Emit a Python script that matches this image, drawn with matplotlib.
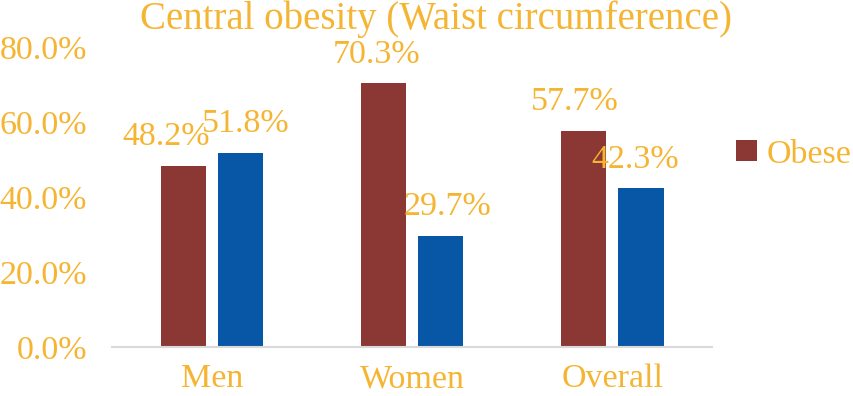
#!/usr/bin/env python3
"""Central obesity (waist circumference) grouped bars."""

import matplotlib
matplotlib.use("Agg")
import matplotlib.pyplot as plt
import numpy as np

# ---- data ----
categories = ["Men", "Women", "Overall"]
obese = [48.2, 70.3, 57.7]
non_obese = [51.8, 29.7, 42.3]
y_ticks = [0, 20, 40, 60, 80]

# ---- style ----
RED = "#8B3835"
BLUE = "#0856A6"
GOLD = "#F5B533"
GRID = "#D9D9D9"
plt.rcParams["font.family"] = ["Liberation Serif", "DejaVu Serif"]

fig = plt.figure(figsize=(8.54, 3.96), dpi=100)
ax = fig.add_axes([0.131, 0.1237, 0.703, 0.7573])

x = np.arange(len(categories))
w = 0.225
off = 0.144
b1 = ax.bar(x - off, obese, w, color=RED, label="Obese")
b2 = ax.bar(x + off, non_obese, w, color=BLUE)

# label nudges in pixels (Excel pushes overlapping labels apart)
nudge_red = [-17, -7, -9]
nudge_blue = [5, 7, -6]
for rect, v, dx in zip(b1, obese, nudge_red):
    ax.annotate(f"{v:.1f}%", (rect.get_x() + rect.get_width() / 2, v),
                xytext=(dx * 0.72, 10), textcoords="offset points",
                ha="center", va="bottom", color=GOLD, fontsize=24.5)
for rect, v, dx in zip(b2, non_obese, nudge_blue):
    ax.annotate(f"{v:.1f}%", (rect.get_x() + rect.get_width() / 2, v),
                xytext=(dx * 0.72, 10), textcoords="offset points",
                ha="center", va="bottom", color=GOLD, fontsize=24.5)

ax.set_xlim(-0.5, len(categories) - 0.5)
ax.set_ylim(0, 80)
ax.set_yticks(y_ticks)
ax.set_yticklabels([f"{t:.1f}%" for t in y_ticks])
ax.set_xticks(x)
ax.set_xticklabels(categories)
ax.tick_params(axis="y", length=0, pad=18, labelcolor=GOLD, labelsize=24.5)
ax.tick_params(axis="x", length=0, pad=12, labelcolor=GOLD, labelsize=24.5)

for s in ("top", "right", "left"):
    ax.spines[s].set_visible(False)
ax.spines["bottom"].set_color(GRID)
ax.spines["bottom"].set_linewidth(1.5)

fig.text(0.51, 0.998, "Central obesity (Waist circumference)",
         ha="center", va="top", color=GOLD, fontsize=28)

leg = fig.legend(handles=[b1], labels=["Obese"], loc="center left",
                 bbox_to_anchor=(0.862, 0.61), frameon=False, fontsize=24.5,
                 handlelength=0.6, handleheight=0.6, handletextpad=0.3,
                 borderpad=0, borderaxespad=0)
for t in leg.get_texts():
    t.set_color(GOLD)

fig.savefig("out.png", dpi=100)
